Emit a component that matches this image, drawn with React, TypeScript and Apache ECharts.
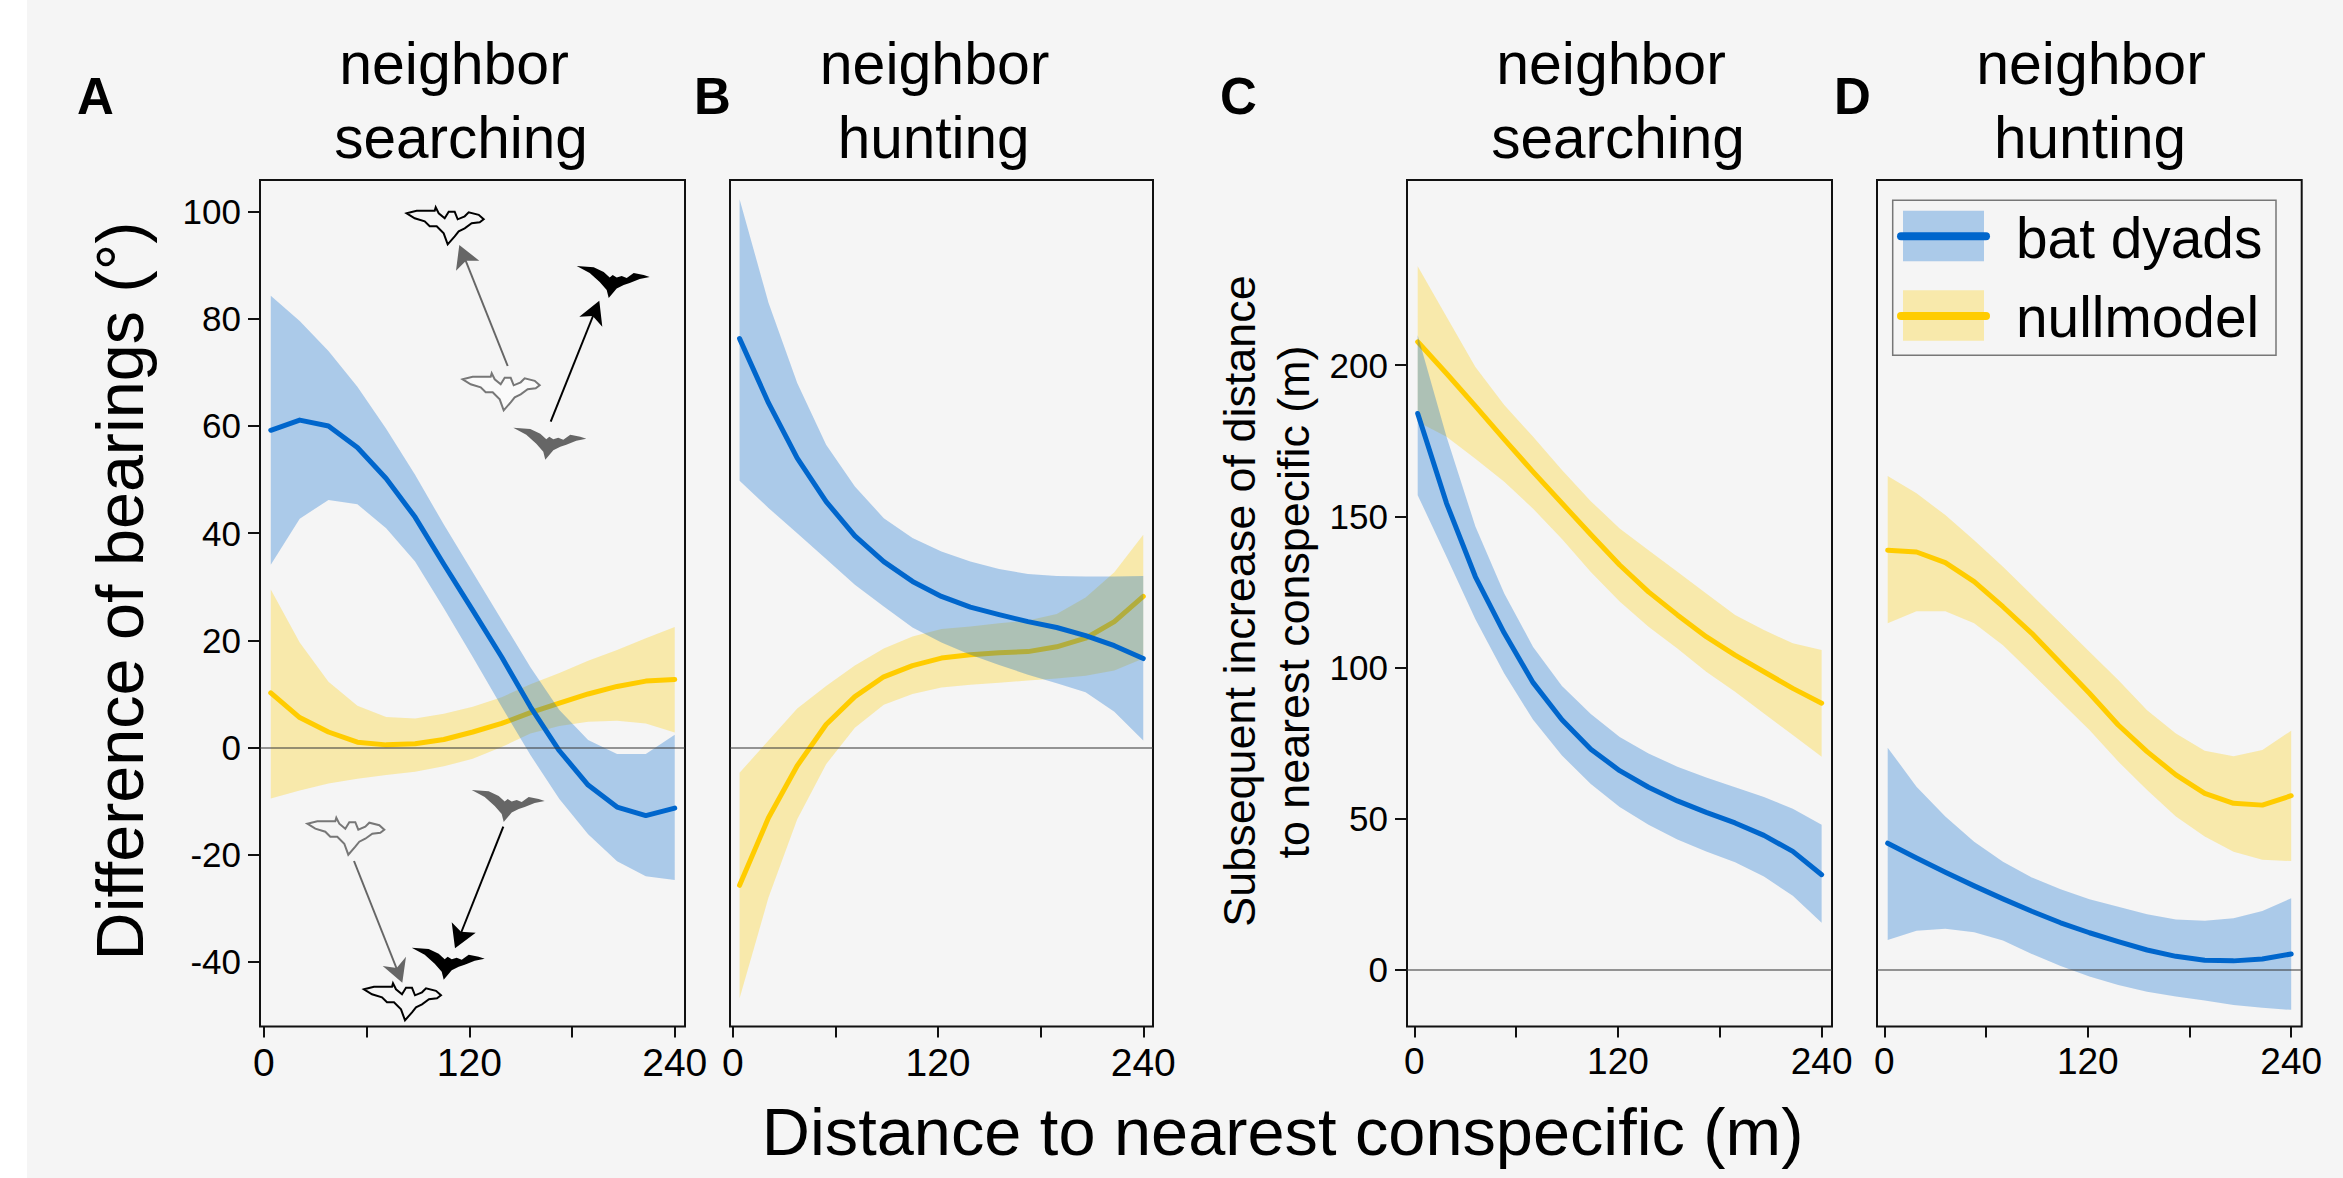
import React, { useEffect, useRef } from "react";
import * as echarts from "echarts";

const xLeftPanels = [4, 20.9, 37.7, 54.6, 71.4, 88.3, 105.1, 122, 138.9, 155.7, 172.6, 189.4, 206.3, 223.1, 240];
const xRightPanels = [2, 19, 36, 53, 70, 87, 104, 121, 138, 155, 172, 189, 206, 223, 240];

const aBatMean = [59.2, 61.1, 60, 56, 50.2, 43, 34.2, 25.6, 16.9, 7.6, -0.6, -7, -11.1, -12.7, -11.3];
const aBatHigh = [84.3, 79.6, 74, 67.3, 59.5, 50.9, 41.6, 32.7, 23.8, 15, 7, 1.4, -1.2, -1.2, 2.4];
const aBatLow = [34.1, 42.7, 46.2, 45.4, 40.9, 34.7, 26, 16.9, 7.6, -1.4, -9.6, -16.2, -21.2, -24, -24.7];
const aNullMean = [10.2, 5.6, 2.9, 1, 0.5, 0.7, 1.5, 2.9, 4.5, 6.5, 8.3, 10, 11.4, 12.4, 12.7];
const aNullHigh = [29.5, 19.6, 12.3, 7.8, 5.7, 5.4, 6.3, 7.6, 9.4, 11.8, 13.9, 16.2, 18.2, 20.4, 22.5];
const aNullLow = [-9.5, -8, -6.7, -5.8, -5.1, -4.5, -3.5, -2.1, 0.1, 2.6, 4, 4.8, 5, 4.5, 2.8];

const bBatMean = [76.3, 64.3, 54, 45.9, 39.5, 34.7, 31, 28.2, 26.2, 24.8, 23.5, 22.4, 20.9, 19, 16.6];
const bBatHigh = [102.3, 83, 68, 56.5, 48.7, 42.8, 39.1, 36.6, 34.7, 33.3, 32.4, 32, 31.9, 31.9, 32];
const bBatLow = [49.8, 44.7, 40, 35.2, 30.4, 26.3, 22.4, 19.6, 17.3, 15.4, 13.6, 12, 10.3, 6.7, 1.3];
const bNullMean = [-25.7, -13.1, -3.4, 4.3, 9.5, 13.2, 15.3, 16.7, 17.3, 17.7, 17.9, 18.8, 20.4, 23.5, 28.2];
const bNullHigh = [-4.7, 1.3, 7.3, 11.5, 15.3, 18.5, 20.7, 22.1, 22.6, 23.2, 23.7, 24.9, 28, 32.7, 39.7];
const bNullLow = [-46.8, -28, -13.4, -3.1, 3.7, 8, 10, 11.2, 11.7, 12.1, 12.5, 12.9, 13.4, 14.4, 16.6];

const cBatMean = [184, 154.3, 130, 111.4, 95, 82.7, 73, 65.9, 60.4, 55.9, 52.1, 48.6, 44.5, 39.2, 31.5];
const cBatHigh = [209.9, 176.3, 146.6, 124.5, 106.8, 93.9, 84.6, 77, 71.6, 67.2, 63.6, 60.4, 57.2, 53.3, 48];
const cBatLow = [157, 136.6, 116, 98, 82.7, 70.9, 61.5, 53.9, 48, 43.1, 39.2, 35.6, 30.9, 24.5, 15.6];
const cNullMean = [207.7, 197.2, 186.4, 175.4, 164.7, 154.3, 144, 133.9, 125, 117.4, 110.2, 104.1, 98.6, 93.1, 88.2];
const cNullHigh = [232.7, 216, 199.4, 186.8, 176.3, 165.3, 155, 146, 138.8, 131.7, 124.5, 117.4, 112.4, 108, 105.8];
const cNullLow = [181.3, 176.3, 169, 161.4, 152.5, 142.5, 131.6, 121.8, 113.5, 106.3, 98.6, 92, 84.8, 77.7, 70.5];

const dBatMean = [41.9, 37, 32.3, 27.8, 23.5, 19.4, 15.6, 12.3, 9.4, 6.6, 4.5, 3.2, 3, 3.6, 5.3];
const dBatHigh = [73.5, 60.6, 50.7, 42.4, 35.8, 30.6, 26.7, 23.4, 20.9, 18.4, 16.7, 16.3, 17.1, 19.5, 23.7];
const dBatLow = [9.9, 13, 13.6, 12.5, 9.7, 5.3, 1.3, -2.2, -5, -7.2, -8.8, -10.1, -11.6, -12.5, -13.2];
const dNullMean = [138.8, 138.2, 134.7, 128.4, 120.1, 111.3, 101.4, 91.5, 81, 72.2, 64.5, 58.4, 55.1, 54.5, 57.6];
const dNullHigh = [163.3, 157.6, 150.4, 142.1, 133.3, 124, 114.6, 105.2, 95.9, 85.9, 78.2, 72.5, 70.7, 72.7, 79.1];
const dNullLow = [114.6, 118.6, 118.6, 114.6, 107.4, 98.1, 88.7, 79.3, 68.9, 59.5, 50.7, 44.1, 39.1, 36.4, 36];

const xTickValues = [0, 60, 120, 180, 240];
const xLabelValues = [0, 120, 240];
const yTicksBearing = [-40, -20, 0, 20, 40, 60, 80, 100];
const yTicksIncrease = [0, 50, 100, 150, 200];
const seriesNames = ["bat dyads", "nullmodel"];

const FONT = "Liberation Sans";
const BAT_LINE = "#0066CC";
const NULL_LINE = "#FFCC00";
const BAT_BAND = "rgba(0,102,204,0.3)";
const NULL_BAND = "rgba(255,204,0,0.3)";

const panels = [
  { grid: { left: 260, top: 180, width: 425, height: 846.5 }, xMin: -2.3, xMax: 246, yMin: -52.05, yMax: 105.9, yTicks: yTicksBearing, showY: true, xs: xLeftPanels, xFont: 39,
    bat: [aBatMean, aBatLow, aBatHigh], nul: [aNullMean, aNullLow, aNullHigh] },
  { grid: { left: 730, top: 180, width: 423, height: 846.5 }, xMin: -1.6, xMax: 245.7, yMin: -52.05, yMax: 105.9, yTicks: yTicksBearing, showY: false, xs: xLeftPanels, xFont: 39,
    bat: [bBatMean, bBatLow, bBatHigh], nul: [bNullMean, bNullLow, bNullHigh] },
  { grid: { left: 1407, top: 180, width: 425, height: 846.5 }, xMin: -4.3, xMax: 246.1, yMin: -18.7, yMax: 261.2, yTicks: yTicksIncrease, showY: true, xs: xRightPanels, xFont: 37,
    bat: [cBatMean, cBatLow, cBatHigh], nul: [cNullMean, cNullLow, cNullHigh] },
  { grid: { left: 1877, top: 180, width: 424.7, height: 846.5 }, xMin: -4.3, xMax: 246.2, yMin: -18.7, yMax: 261.2, yTicks: yTicksIncrease, showY: false, xs: xRightPanels, xFont: 37,
    bat: [dBatMean, dBatLow, dBatHigh], nul: [dNullMean, dNullLow, dNullHigh] },
];

const solidBat = "M0 1L17 2.3L27 7L33 12.5L36 10L40 12.5L45 11L50 13L57 8L67 10L73 12L63 14L53 18L47 20L40 23.5L32 33L30 25L23 17L13 8Z";
const outlineBat = "M0 6L10 3.5L28 3.5L29 0L32 6L38 11L42 4.5L48 4.5L51 12L58 9L62 5L72 7.5L77 12L73 15L65 16L58 21L52 24L48 29L41 37L37 26L30 19L23 19L18 14L8 11Z";
echarts.graphic.registerShape("batSolid", echarts.graphic.extendPath(solidBat, {}) as any);
echarts.graphic.registerShape("batOutline", echarts.graphic.extendPath(outlineBat, {}) as any);

const CENTRAL = 0.3465;

function label(text: string, x: number, baseline: number, size: number, extra: any = {}) {
  return {
    type: "text", x, y: baseline - CENTRAL * size, z: 50,
    style: { text, fontFamily: FONT, fontSize: size, fill: "#000", align: "center", verticalAlign: "middle", ...extra },
  };
}
function vlabel(text: string, baselineX: number, centerY: number, size: number) {
  return {
    type: "text", x: baselineX - CENTRAL * size, y: centerY, rotation: Math.PI / 2, z: 50,
    style: { text, fontFamily: FONT, fontSize: size, fill: "#000", align: "center", verticalAlign: "middle" },
  };
}
function arrow(x1: number, y1: number, x2: number, y2: number, head: number[][], color: string, w: number) {
  return [
    { type: "line", z: 40, shape: { x1, y1, x2, y2 }, style: { stroke: color, lineWidth: w } },
    { type: "polygon", z: 40, shape: { points: head }, style: { fill: color } },
  ];
}
function legendRow(top: number, lineY: number, baseline: number, band: string, line: string, text: string) {
  return [
    { type: "rect", z: 45, shape: { x: 1903, y: top, width: 81, height: 50.5 }, style: { fill: band } },
    { type: "line", z: 46, shape: { x1: 1901, y1: lineY, x2: 1986, y2: lineY }, style: { stroke: line, lineWidth: 8, lineCap: "round" } },
    label(text, 2016, baseline, 56.8, { align: "left" }),
  ];
}

function graphics() {
  return [
    label("neighbor", 454, 84.5, 59), label("searching", 461, 158, 58.5),
    label("neighbor", 934.6, 84.5, 59), label("hunting", 933.7, 158, 58.5),
    label("neighbor", 1611, 84.5, 59), label("searching", 1618, 158, 58.5),
    label("neighbor", 2091, 84.5, 59), label("hunting", 2090, 158, 58.5),
    label("A", 77, 114, 51, { fontWeight: "bold", align: "left" }),
    label("B", 694, 114, 51, { fontWeight: "bold", align: "left" }),
    label("C", 1220, 114, 51, { fontWeight: "bold", align: "left" }),
    label("D", 1834, 114, 51, { fontWeight: "bold", align: "left" }),
    vlabel("Difference of bearings (°)", 143, 591, 66.5),
    vlabel("Subsequent increase of distance", 1255, 601, 44.9),
    vlabel("to nearest conspecific (m)", 1309, 602, 44.8),
    label("Distance to nearest conspecific (m)", 1282.6, 1155.6, 66.7),
    { type: "rect", z: 44, shape: { x: 1892.7, y: 200.3, width: 383.3, height: 155 }, style: { fill: "#f5f5f5", stroke: "#777", lineWidth: 1.5 } },
    ...legendRow(210.7, 236.3, 258.3, BAT_BAND, BAT_LINE, seriesNames[0]),
    ...legendRow(290.3, 316, 337.3, NULL_BAND, NULL_LINE, seriesNames[1]),
    { type: "batOutline", z: 40, x: 406.7, y: 207.3, style: { fill: "none", stroke: "#000", lineWidth: 2 } },
    { type: "batOutline", z: 40, x: 462.7, y: 373.3, style: { fill: "#fafafa", stroke: "#777", lineWidth: 2 } },
    { type: "batSolid", z: 40, x: 513.3, y: 426.7, style: { fill: "#666" } },
    { type: "batSolid", z: 40, x: 576.7, y: 265, style: { fill: "#000" } },
    { type: "batOutline", z: 40, x: 307.3, y: 817.7, style: { fill: "none", stroke: "#777", lineWidth: 2 } },
    { type: "batSolid", z: 40, x: 471.7, y: 789, style: { fill: "#666" } },
    { type: "batSolid", z: 40, x: 411.7, y: 946.7, style: { fill: "#000" } },
    { type: "batOutline", z: 40, x: 364, y: 983.3, style: { fill: "none", stroke: "#000", lineWidth: 2 } },
    ...arrow(507.7, 366, 463, 254, [[459.3, 245], [456, 270.7], [466, 260.7], [479.3, 260.7]], "#666", 2),
    ...arrow(550.7, 421.7, 595, 311, [[599.3, 300.7], [579.3, 316.7], [592.7, 316], [602.3, 326.7]], "#000", 2),
    ...arrow(354, 861, 398, 972, [[402.3, 982.7], [382.7, 966], [396.7, 968], [406, 956.7]], "#666", 2),
    ...arrow(503.3, 826.7, 459, 938, [[455, 948.3], [451.7, 922.3], [461, 931.7], [475.7, 932.7]], "#000", 2),
  ];
}

function bandSeries(name: string, xs: number[], low: number[], high: number[], fill: string, axis: number, z: number) {
  return {
    type: "custom", name, xAxisIndex: axis, yAxisIndex: axis, silent: true, clip: true, z,
    encode: { x: 0, y: [1, 2] },
    data: xs.map((x, i) => [x, low[i], high[i]]),
    renderItem: (params: any, api: any) => {
      if (params.dataIndex !== 0) return null;
      const pts: number[][] = [];
      xs.forEach((x, i) => pts.push(api.coord([x, high[i]])));
      for (let i = xs.length - 1; i >= 0; i--) pts.push(api.coord([xs[i], low[i]]));
      return { type: "polygon", shape: { points: pts }, style: { fill } };
    },
  };
}
function lineSeries(name: string, xs: number[], ys: number[], color: string, axis: number, z: number, zero: boolean) {
  return {
    type: "line", name, xAxisIndex: axis, yAxisIndex: axis, showSymbol: false, silent: true, smooth: false, z,
    lineStyle: { color, width: 5, cap: "round", join: "round" },
    data: xs.map((x, i) => [x, ys[i]]),
    ...(zero ? {
      markLine: {
        silent: true, symbol: ["none", "none"], label: { show: false }, z: 10,
        lineStyle: { color: "rgba(60,60,60,0.7)", width: 1.6, type: "solid" },
        data: [{ yAxis: 0 }],
      },
    } : {}),
  };
}

function buildOption() {
  const series: any[] = [];
  panels.forEach((p, i) => {
    series.push(bandSeries(seriesNames[1] + " band", p.xs, p.nul[1], p.nul[2], NULL_BAND, i, 1));
    series.push(lineSeries(seriesNames[1], p.xs, p.nul[0], NULL_LINE, i, 2, false));
    series.push(bandSeries(seriesNames[0] + " band", p.xs, p.bat[1], p.bat[2], BAT_BAND, i, 3));
    series.push(lineSeries(seriesNames[0], p.xs, p.bat[0], BAT_LINE, i, 4, true));
  });
  return {
    animation: false,
    backgroundColor: "transparent",
    textStyle: { fontFamily: FONT },
    grid: panels.map((p) => ({ ...p.grid, show: true, borderColor: "#111", borderWidth: 2, backgroundColor: "transparent", containLabel: false })),
    xAxis: panels.map((p, i) => ({
      type: "value", gridIndex: i, min: p.xMin, max: p.xMax, splitLine: { show: false },
      axisLine: { show: false, onZero: false },
      axisTick: { show: true, length: 11, inside: false, customValues: xTickValues, lineStyle: { color: "#111", width: 2 } },
      axisLabel: { show: true, customValues: xLabelValues, color: "#000", fontFamily: FONT, fontSize: p.xFont, margin: 16, hideOverlap: false, showMinLabel: true, showMaxLabel: true },
    })),
    yAxis: panels.map((p, i) => ({
      type: "value", gridIndex: i, min: p.yMin, max: p.yMax, splitLine: { show: false },
      axisLine: { show: false, onZero: false },
      axisTick: p.showY ? { show: true, length: 12, customValues: p.yTicks, lineStyle: { color: "#111", width: 2 } } : { show: false },
      axisLabel: p.showY ? { show: true, customValues: p.yTicks, color: "#000", fontFamily: FONT, fontSize: 35, margin: 19 } : { show: false },
    })),
    series,
    graphic: { elements: graphics() },
  };
}

export default function App() {
  const ref = useRef<HTMLDivElement>(null);
  useEffect(() => {
    document.body.style.margin = "0";
    document.body.style.overflow = "hidden";
    const chart = echarts.init(ref.current!, undefined, { renderer: "svg" });
    chart.setOption(buildOption() as any);
    return () => chart.dispose();
  }, []);
  return (
    <div style={{ position: "fixed", left: 0, top: 0, width: 2343, height: 1178, background: "linear-gradient(to right,#fff 27px,#f5f5f5 27px)" }}>
      <div ref={ref} style={{ width: 2343, height: 1178 }} />
    </div>
  );
}
